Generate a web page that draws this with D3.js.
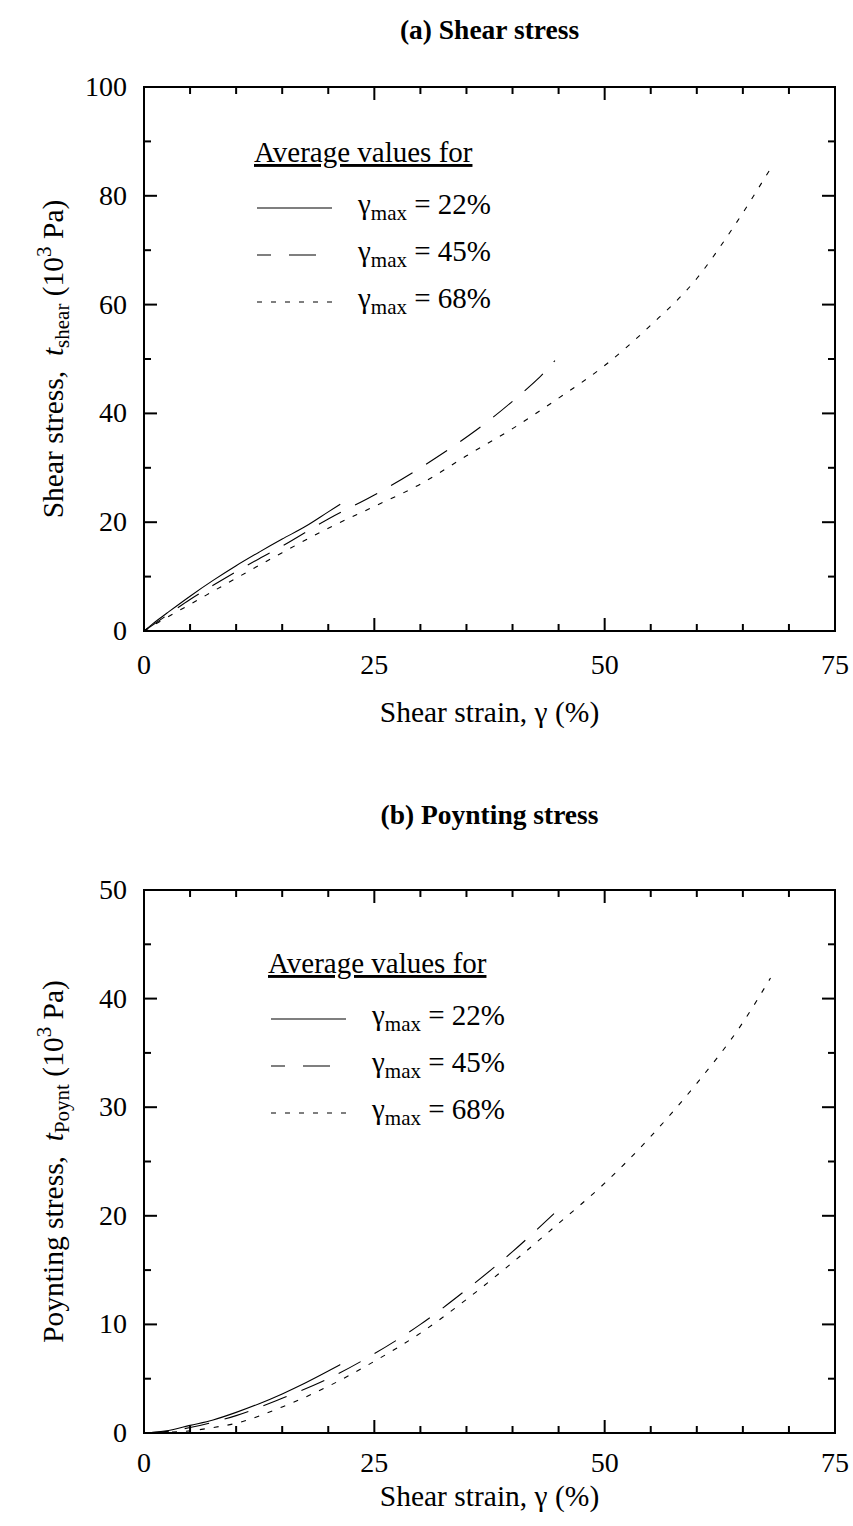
<!DOCTYPE html>
<html><head><meta charset="utf-8">
<script src="https://cdn.jsdelivr.net/npm/d3@7"></script>
<style>
body{margin:0;background:#fff}
text{font-family:"Liberation Serif","Times New Roman",serif;fill:#000;white-space:pre}
</style>
</head><body>
<svg id="c" width="853" height="1526"></svg>
<script>
// ---------- data ----------
const strainTicks = [0, 25, 50, 75];
const shearTicks = [0, 20, 40, 60, 80, 100];
const poyntTicks = [0, 10, 20, 30, 40, 50];
const legendLabels = ["22%", "45%", "68%"];

// (a) shear stress (10^3 Pa) vs strain (%)
const shear22 = [[0,0],[1,1.4],[2.5,3.3],[5,6.4],[7.5,9.3],[10,12.0],[12.5,14.5],[15,16.9],[17.5,19.2],[20,21.9],[21.3,23.3]];
const shear45 = [[0,0],[2.5,2.9],[5,5.8],[7.5,8.4],[10,10.9],[12.5,13.3],[15,15.6],[20,20.6],[25,25.0],[30,30.0],[34.3,34.8],[37.6,38.9],[40.8,43.4],[42.6,46.1],[44.6,49.7]];
const shear68 = [[0,0],[2.5,2.5],[5,4.9],[10,9.7],[15,14.4],[20,18.9],[25,22.9],[30,27.0],[35,32.2],[40,37.2],[45,42.8],[50,48.8],[55,56.2],[60,64.8],[64,74.3],[68,85.0]];

// (b) Poynting stress (10^3 Pa) vs strain (%)
const poynt22 = [[0,0],[2.5,0.2],[5,0.7],[7.5,1.2],[10,1.9],[12.5,2.7],[15,3.6],[17.5,4.6],[20,5.7],[21.3,6.3]];
const poynt45 = [[0,0],[2.5,0.15],[5,0.5],[7.5,1.0],[10,1.6],[15,3.2],[20,5.0],[25,7.3],[30,10.0],[35,13.2],[40,16.7],[44.5,20.2]];
const poynt68 = [[0,0],[5,0.2],[7.5,0.5],[10,0.9],[15,2.4],[20,4.3],[25,6.6],[30,9.2],[35,12.3],[40,15.7],[45,19.3],[50,23.0],[55,27.3],[60,32.2],[65,37.8],[68,41.9]];

// ---------- drawing ----------
const svg = d3.select("#c");
const TICKF = 28, TITLEF = 27.5, AXF = 29.5, LEGF = 29;
const dashes = [null, "25,16", "5,9"];

function panel(cfg) {
  const x = d3.scaleLinear().domain([0, 75]).range([144, 835]);
  const y = d3.scaleLinear().domain(cfg.ydom).range(cfg.yrange);
  const g = svg.append("g");
  const [x0, x1] = x.range();
  const [yb, yt] = y.range();

  g.append("text").attr("x", (x0 + x1) / 2).attr("y", cfg.titleY)
    .attr("text-anchor", "middle").attr("font-weight", "bold")
    .attr("font-size", TITLEF).text(cfg.title);

  const xMinor = d3.range(0, 75.01, 5);
  const yMinor = d3.range(cfg.ydom[0], cfg.ydom[1] + 0.01, cfg.yminor);
  const tk = g.append("g").attr("stroke", "#000").attr("stroke-width", 2);
  xMinor.forEach(v => {
    const L = strainTicks.includes(v) ? 13 : 7;
    tk.append("line").attr("x1", x(v)).attr("x2", x(v)).attr("y1", yb).attr("y2", yb - L);
    tk.append("line").attr("x1", x(v)).attr("x2", x(v)).attr("y1", yt).attr("y2", yt + L);
  });
  yMinor.forEach(v => {
    const L = cfg.yticks.includes(v) ? 13 : 7;
    tk.append("line").attr("y1", y(v)).attr("y2", y(v)).attr("x1", x0).attr("x2", x0 + L);
    tk.append("line").attr("y1", y(v)).attr("y2", y(v)).attr("x1", x1).attr("x2", x1 - L);
  });
  g.append("rect").attr("x", x0).attr("y", yt).attr("width", x1 - x0).attr("height", yb - yt)
    .attr("fill", "none").attr("stroke", "#000").attr("stroke-width", 2);

  strainTicks.forEach(v => g.append("text").attr("x", x(v)).attr("y", yb + cfg.xlabOff)
    .attr("text-anchor", "middle").attr("font-size", TICKF).text(v));
  cfg.yticks.forEach(v => g.append("text").attr("x", x0 - 17).attr("y", y(v) + 9)
    .attr("text-anchor", "end").attr("font-size", TICKF).text(v));

  g.append("text").attr("x", (x0 + x1) / 2).attr("y", yb + cfg.xtitleOff)
    .attr("text-anchor", "middle").attr("font-size", AXF).text("Shear strain, γ (%)");

  const yl = g.append("text").attr("transform", `translate(63,${(yb + yt) / 2}) rotate(-90)`)
    .attr("text-anchor", "middle").attr("font-size", AXF);
  yl.append("tspan").text(cfg.yname + ",  ");
  yl.append("tspan").attr("font-style", "italic").text("t");
  yl.append("tspan").attr("font-size", 21).attr("dy", 6).text(cfg.ysub);
  yl.append("tspan").attr("dy", -6).text(" (10");
  yl.append("tspan").attr("font-size", 21).attr("dy", -12).text("3");
  yl.append("tspan").attr("dy", 12).text(" Pa)");

  const line = d3.line().x(d => x(d[0])).y(d => y(d[1])).curve(d3.curveMonotoneX);
  cfg.series.forEach((s, i) => {
    g.append("path").datum(s).attr("d", line).attr("fill", "none")
      .attr("stroke", "#000").attr("stroke-width", 1.1)
      .attr("stroke-dasharray", dashes[i]);
  });

  const lx = cfg.legX, ly = cfg.legY;
  g.append("text").attr("x", lx).attr("y", ly).attr("font-size", LEGF)
    .attr("text-decoration", "underline").text("Average values for");
  legendLabels.forEach((lab, i) => {
    const yy = ly + 46 + i * 47;
    g.append("line").attr("x1", lx + 3).attr("x2", lx + 78).attr("y1", yy).attr("y2", yy)
      .attr("stroke", "#000").attr("stroke-width", 1.1)
      .attr("stroke-dasharray", i === 1 ? "27,18" : dashes[i])
      .attr("stroke-dashoffset", i === 1 ? 13 : 0);
    const t = g.append("text").attr("x", lx + 104).attr("y", yy + 6).attr("font-size", LEGF);
    t.append("tspan").text("γ");
    t.append("tspan").attr("font-size", 21).attr("dy", 6).text("max");
    t.append("tspan").attr("dy", -6).text(" = " + lab);
  });
}

panel({
  title: "(a) Shear stress", titleY: 39,
  ydom: [0, 100], yrange: [631, 87], yticks: shearTicks, yminor: 10,
  yname: "Shear stress", ysub: "shear", xlabOff: 43, xtitleOff: 91,
  series: [shear22, shear45, shear68], legX: 254, legY: 162
});
panel({
  title: "(b) Poynting stress", titleY: 824,
  ydom: [0, 50], yrange: [1433, 890], yticks: poyntTicks, yminor: 5,
  yname: "Poynting stress", ysub: "Poynt", xlabOff: 39, xtitleOff: 73,
  series: [poynt22, poynt45, poynt68], legX: 268, legY: 973
});
</script>
</body></html>
